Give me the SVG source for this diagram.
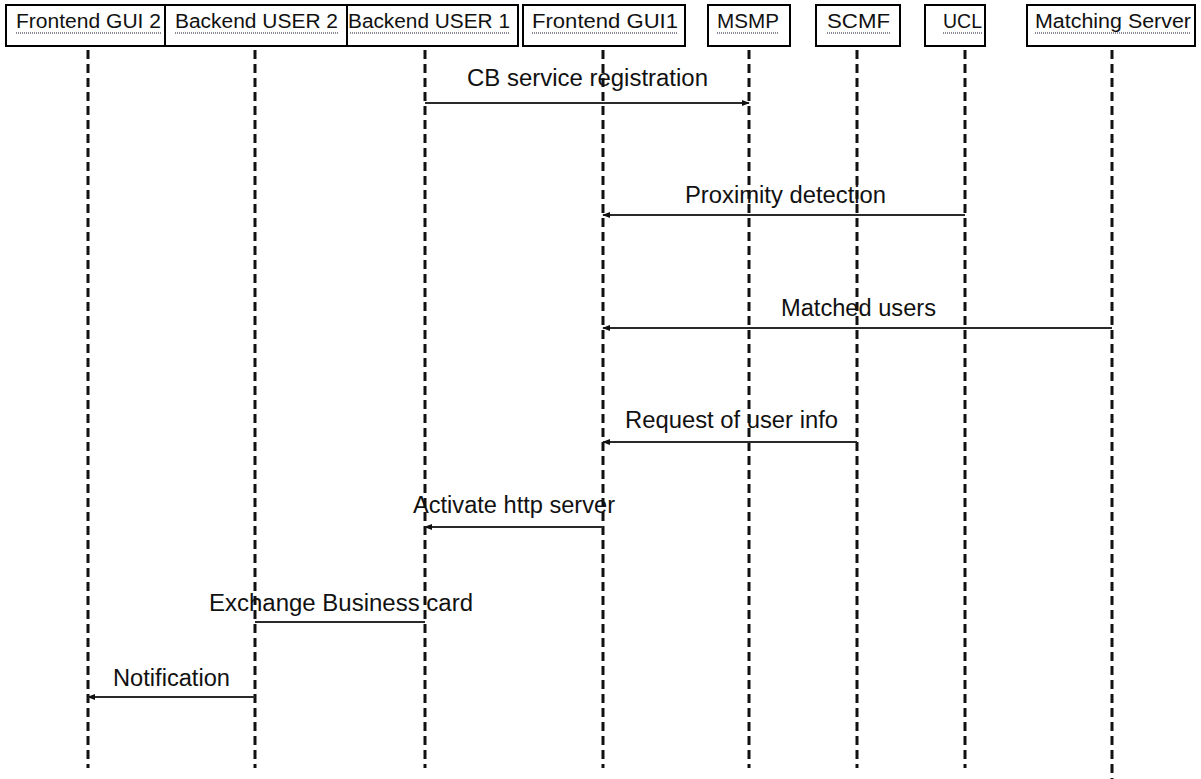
<svg xmlns="http://www.w3.org/2000/svg" width="1201" height="779" viewBox="0 0 1201 779">
  <style>
    .box { fill: #ffffff; stroke: #000000; stroke-width: 2; }
    .hdr { font-family: "Liberation Sans", Arial, sans-serif; font-size: 20px; fill: #111111; }
    .uline { stroke: #8c8a9a; stroke-width: 2; stroke-dasharray: 1 1; }
    .life { stroke: #111111; stroke-width: 3; stroke-dasharray: 9 5; fill: none; }
    .msg { stroke: #2a2a2a; stroke-width: 2; fill: none; }
    .lbl { font-family: "Liberation Sans", Arial, sans-serif; font-size: 23px; fill: #111111; }
  </style>
  <defs>
    <marker id="arrow" viewBox="0 0 10 10" refX="9" refY="5" markerWidth="8" markerHeight="8" markerUnits="userSpaceOnUse" orient="auto">
      <path d="M0,1 L10,5 L0,9 z" fill="#111111"/>
    </marker>
  </defs>
  <rect width="1201" height="779" fill="#ffffff"/>

  <!-- lifelines -->
  <g id="lifelines">
    <line class="life" x1="88" y1="50" x2="88" y2="768"/>
    <line class="life" x1="255" y1="50" x2="255" y2="768"/>
    <line class="life" x1="425" y1="50" x2="425" y2="768"/>
    <line class="life" x1="603" y1="50" x2="603" y2="768"/>
    <line class="life" x1="749" y1="50" x2="749" y2="768"/>
    <line class="life" x1="857" y1="50" x2="857" y2="768"/>
    <line class="life" x1="965" y1="50" x2="965" y2="768"/>
    <line class="life" x1="1112" y1="50" x2="1112" y2="779"/>
  </g>

  <!-- participant headers -->
  <g id="frontend-gui-2">
    <rect class="box" x="6" y="5" width="159" height="41"/>
    <text class="hdr" x="16" y="28" textLength="145" lengthAdjust="spacingAndGlyphs">Frontend GUI 2</text>
    <line class="uline" x1="16" y1="33" x2="161" y2="33"/>
  </g>
  <g id="backend-user-2">
    <rect class="box" x="165" y="5" width="182" height="41"/>
    <text class="hdr" x="175" y="28" textLength="163" lengthAdjust="spacingAndGlyphs">Backend USER 2</text>
    <line class="uline" x1="175" y1="33" x2="338" y2="33"/>
  </g>
  <g id="backend-user-1">
    <rect class="box" x="347" y="5" width="171" height="41"/>
    <text class="hdr" x="348" y="28" textLength="162" lengthAdjust="spacingAndGlyphs">Backend USER 1</text>
    <line class="uline" x1="350" y1="33" x2="510" y2="33"/>
  </g>
  <g id="frontend-gui-1">
    <rect class="box" x="523" y="5" width="162" height="41"/>
    <text class="hdr" x="532" y="28" textLength="146" lengthAdjust="spacingAndGlyphs">Frontend GUI1</text>
    <line class="uline" x1="532" y1="33" x2="678" y2="33"/>
  </g>
  <g id="msmp">
    <rect class="box" x="708" y="5" width="82" height="41"/>
    <text class="hdr" x="717" y="28" textLength="62" lengthAdjust="spacingAndGlyphs">MSMP</text>
    <line class="uline" x1="717" y1="33" x2="779" y2="33"/>
  </g>
  <g id="scmf">
    <rect class="box" x="816" y="5" width="84" height="41"/>
    <text class="hdr" x="827" y="28" textLength="63" lengthAdjust="spacingAndGlyphs">SCMF</text>
    <line class="uline" x1="827" y1="33" x2="890" y2="33"/>
  </g>
  <g id="ucl">
    <rect class="box" x="925" y="5" width="60" height="41"/>
    <text class="hdr" x="943" y="28" textLength="39" lengthAdjust="spacingAndGlyphs">UCL</text>
    <line class="uline" x1="943" y1="33" x2="982" y2="33"/>
  </g>
  <g id="matching-server">
    <rect class="box" x="1027" y="5" width="168" height="41"/>
    <text class="hdr" x="1035" y="28" textLength="156" lengthAdjust="spacingAndGlyphs">Matching Server</text>
    <line class="uline" x1="1035" y1="33" x2="1190" y2="33"/>
  </g>

  <!-- messages -->
  <g id="connectors">
    <line class="msg" x1="425" y1="103" x2="749" y2="103" marker-end="url(#arrow)"/>
    <line class="msg" x1="965" y1="215" x2="603" y2="215" marker-end="url(#arrow)"/>
    <line class="msg" x1="1112" y1="328" x2="603" y2="328" marker-end="url(#arrow)"/>
    <line class="msg" x1="857" y1="442" x2="603" y2="442" marker-end="url(#arrow)"/>
    <line class="msg" x1="603" y1="527" x2="425" y2="527" marker-end="url(#arrow)"/>
    <line class="msg" x1="425" y1="622" x2="255" y2="622"/>
    <line class="msg" x1="255" y1="697" x2="88" y2="697" marker-end="url(#arrow)"/>
  </g>

  <!-- message labels -->
  <g id="labels">
    <text class="lbl" x="467" y="86" textLength="241" lengthAdjust="spacingAndGlyphs">CB service registration</text>
    <text class="lbl" x="685" y="203" textLength="201" lengthAdjust="spacingAndGlyphs">Proximity detection</text>
    <text class="lbl" x="781" y="316" textLength="155" lengthAdjust="spacingAndGlyphs">Matched users</text>
    <text class="lbl" x="625" y="428" textLength="213" lengthAdjust="spacingAndGlyphs">Request of user info</text>
    <text class="lbl" x="413" y="513" textLength="202" lengthAdjust="spacingAndGlyphs">Activate http server</text>
    <text class="lbl" x="209" y="611" textLength="264" lengthAdjust="spacingAndGlyphs">Exchange Business card</text>
    <text class="lbl" x="113" y="686" textLength="117" lengthAdjust="spacingAndGlyphs">Notification</text>
  </g>
</svg>
